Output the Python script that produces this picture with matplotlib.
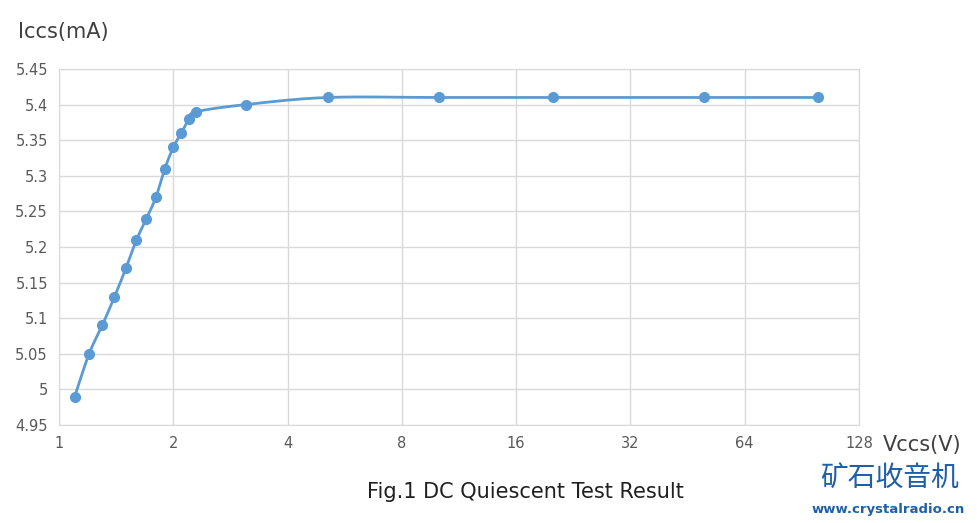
import numpy as np
import matplotlib
matplotlib.use("Agg")
import matplotlib.pyplot as plt
from matplotlib import font_manager as fm

vccs = [1.1, 1.2, 1.3, 1.4, 1.5, 1.6, 1.7, 1.8, 1.9, 2.0, 2.1, 2.2, 2.3, 3.1, 5.1, 10, 20, 50, 100]
iccs = [4.99, 5.05, 5.09, 5.13, 5.17, 5.21, 5.24, 5.27, 5.31, 5.34, 5.36, 5.38, 5.39, 5.40, 5.41, 5.41, 5.41, 5.41, 5.41]
xticks = [1, 2, 4, 8, 16, 32, 64, 128]
yticks = [4.95, 5.0, 5.05, 5.1, 5.15, 5.2, 5.25, 5.3, 5.35, 5.4, 5.45]

W, H = 977, 523
fig = plt.figure(figsize=(W/100, H/100), dpi=100)
ax = fig.add_axes([59/W, 1-425/H, 800/W, 356/H])
ax.set_xscale("log", base=2)
ax.set_xlim(1, 128)
ax.set_ylim(4.95, 5.45)

lx = np.log2(vccs); ly = np.array(iccs)
P = np.column_stack([lx, ly])
P = np.vstack([P[0], P, P[-1]])
xs, ys = [], []
for i in range(1, len(P)-2):
    p0, p1, p2, p3 = P[i-1], P[i], P[i+1], P[i+2]
    t = np.linspace(0, 1, 30)[:, None]
    c = 0.5*((2*p1) + (-p0+p2)*t + (2*p0-5*p1+4*p2-p3)*t**2 + (-p0+3*p1-3*p2+p3)*t**3)
    xs.extend(c[:, 0]); ys.extend(c[:, 1])
col = "#5B9BD5"
ax.plot(2**np.array(xs), ys, color=col, lw=2)
ax.plot(vccs, iccs, "o", color=col, ms=7)

ax.set_xticks(xticks)
ax.set_xticklabels([str(v) for v in xticks])
ax.set_yticks(yticks)
ax.set_yticklabels([f"{v:g}" for v in yticks])
ax.minorticks_off()
ax.grid(True, color="#D9D9D9", lw=1)
ax.set_axisbelow(True)
for s in ax.spines.values():
    s.set_color("#D9D9D9")
ax.tick_params(length=0, labelsize=10.5, colors="#595959", pad=8)

fig.text(18/W, 1-32/H, "Iccs(mA)", fontsize=15, color="#404040", va="center")
fig.text(883/W, 1-445/H, "Vccs(V)", fontsize=15, color="#404040", va="center")
fig.text(525/W, 1-492/H, "Fig.1 DC Quiescent Test Result", fontsize=15, color="#202020", ha="center", va="center")
cjk = None
for f in fm.fontManager.ttflist:
    if "CJK" in f.name and "SC" in f.name:
        cjk = fm.FontProperties(fname=f.fname, size=20, weight="bold")
        break
if cjk is None:
    cjk = fm.FontProperties(family=["Noto Sans CJK SC", "Noto Sans CJK JP"], size=20)
fig.text(890/W, 1-478/H, "矿石收音机", color="#1F5FA8", ha="center", va="center", fontproperties=cjk)
fig.text(888/W, 1-510/H, "www.crystalradio.cn", fontsize=9.5, color="#1F5FA8", ha="center", va="center", fontweight="bold")
fig.savefig("out.png", dpi=100)
